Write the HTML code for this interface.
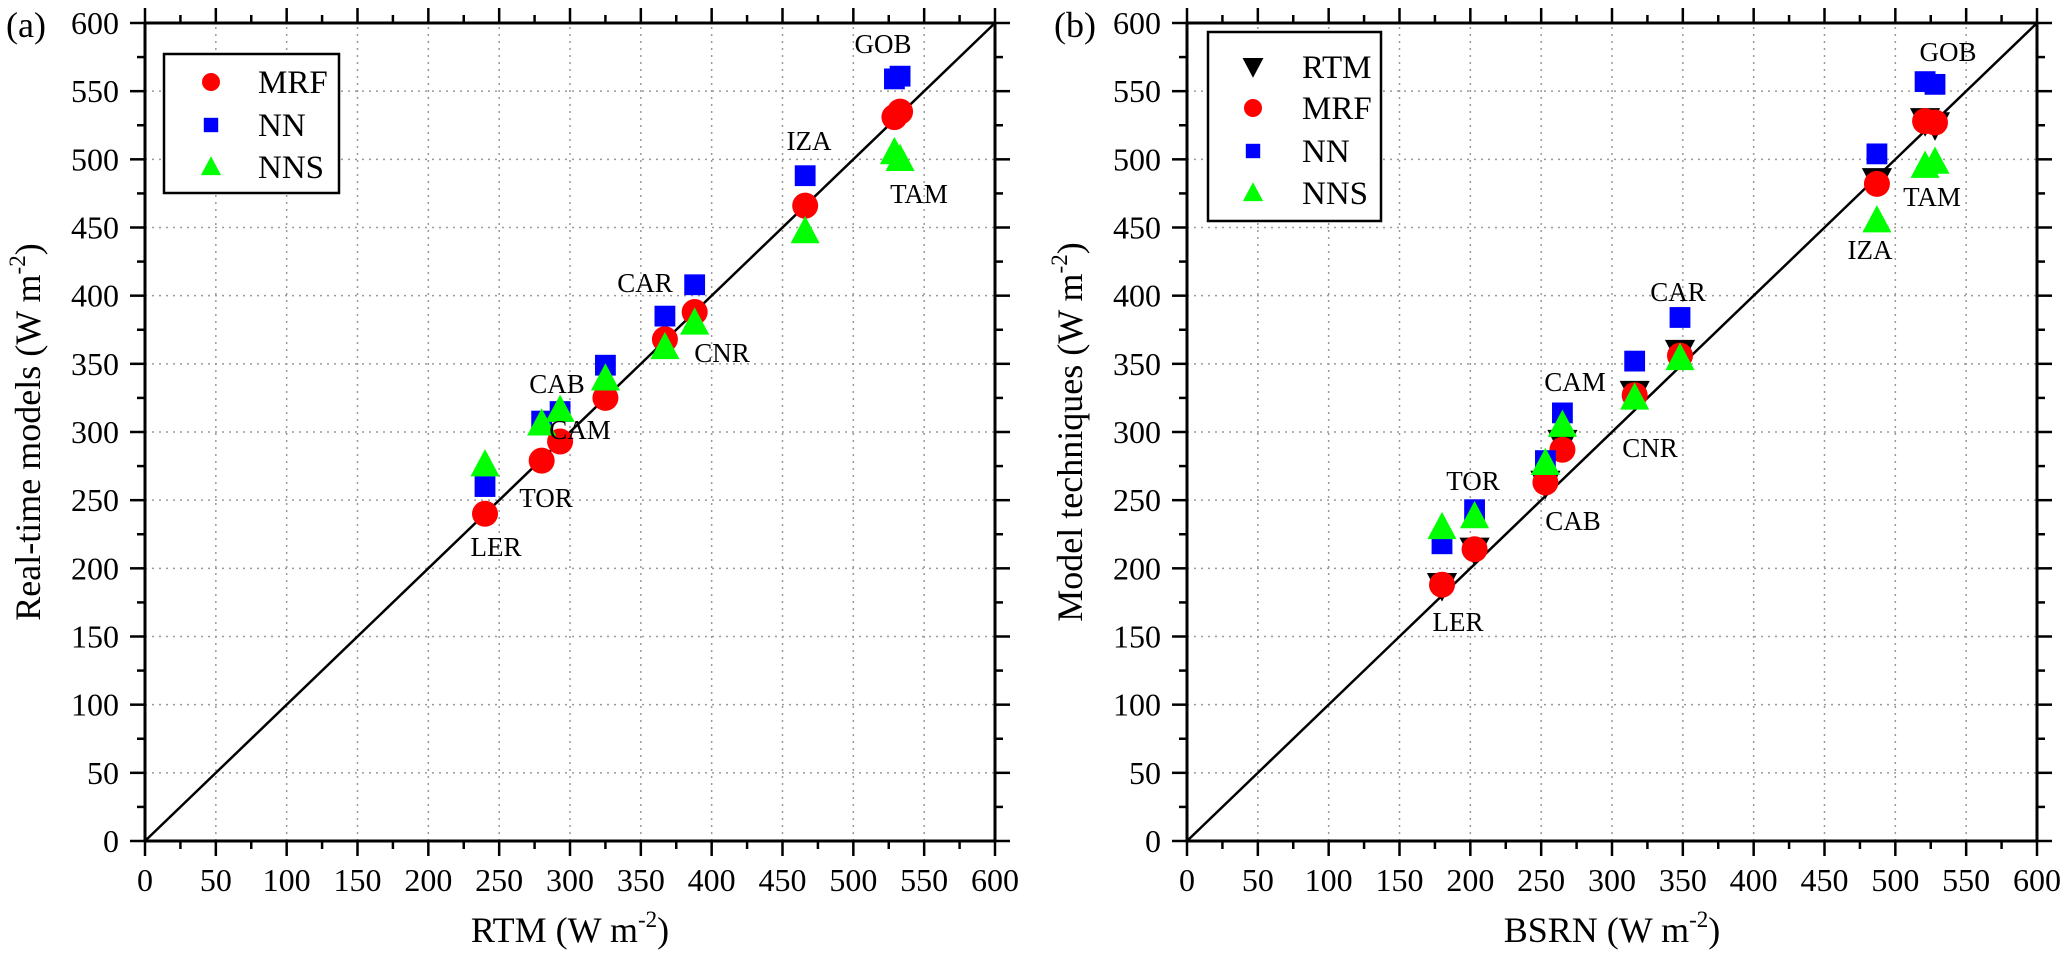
<!DOCTYPE html>
<html><head><meta charset="utf-8"><style>
html,body{margin:0;padding:0;background:#fff;}
svg{display:block;}
svg text{font-family:"Liberation Serif","Times New Roman",serif;}
</style></head><body>
<svg id="chart" width="2067" height="963" viewBox="0 0 2067 963" xmlns="http://www.w3.org/2000/svg" font-family="Liberation Serif, serif"></svg>
<script>
// Panel (a) data
const aSites = ["LER","TOR","CAM","CAB","CNR","CAR","IZA","TAM","GOB"];
const aRTM = [240,280,293,325,367,388,466,529,533];
const aMRF = [240,279,293,325,368,388,466,531,535];
const aNN  = [260,308,315,349,385,408,488,559,561];
const aNNS = [276,306,316,339,362,380,447,505,500];
// Panel (b) data
const bSites = ["LER","TOR","CAB","CAM","CNR","CAR","IZA","TAM","GOB"];
const bBSRN = [180,203,253,265,316,348,487,521,528];
const bRTM = [187,213,262,292,328,358,484,528,525];
const bMRF = [188,214,263,287,327,356,482,528,527];
const bNN  = [218,243,279,314,352,384,504,557,555];
const bNNS = [230,238,277,305,325,354,455,495,498];
const ticks = [0,50,100,150,200,250,300,350,400,450,500,550,600];

const NS="http://www.w3.org/2000/svg";
const FF="Liberation Serif, Times New Roman, serif";
const svg=document.getElementById('chart');
function mk(tag,attrs,parent,text){const e=document.createElementNS(NS,tag);for(const k in attrs)e.setAttribute(k,attrs[k]);if(tag==='text')e.setAttribute('font-family',FF);if(text!==undefined)e.textContent=text;(parent||svg).appendChild(e);return e;}

function panel(x0,name){
  const g=mk('g',{});
  
  
  const X=v=>x0+v*850/600, Y=v=>841-v*818/600;
  ticks.forEach(t=>{if(t>0&&t<600){
    const gv=mk('line',{x1:X(t),x2:X(t),y1:Y(0),y2:Y(600),stroke:'#999','stroke-width':1.5,'stroke-dasharray':'2,5'},g);
    
    
    const gh=mk('line',{x1:X(0),x2:X(600),y1:Y(t),y2:Y(t),stroke:'#999','stroke-width':1.5,'stroke-dasharray':'2,5'},g);
    
    
  }});
  for(let t=0;t<=600;t+=25){
    const maj=t%50===0, L=maj?15:8;
    mk('line',{x1:X(t),x2:X(t),y1:Y(0),y2:Y(0)+L,stroke:'#000','stroke-width':2.5},g);
    mk('line',{x1:X(t),x2:X(t),y1:Y(600),y2:Y(600)-L,stroke:'#000','stroke-width':2.5},g);
    mk('line',{x1:X(0),x2:X(0)-L,y1:Y(t),y2:Y(t),stroke:'#000','stroke-width':2.5},g);
    mk('line',{x1:X(600),x2:X(600)+L,y1:Y(t),y2:Y(t),stroke:'#000','stroke-width':2.5},g);
  }
  ticks.forEach(t=>{
    const tx=mk('text',{x:X(t),y:Y(0)+50,'font-size':32,'text-anchor':'middle'},g,String(t));
    
    
    const ty=mk('text',{x:X(0)-26,y:Y(t)+11,'font-size':32,'text-anchor':'end'},g,String(t));
    
    
  });
  const fr=mk('rect',{x:X(0),y:Y(600),width:X(600)-X(0),height:Y(0)-Y(600),fill:'none',stroke:'#000','stroke-width':3},g);
  
  
  const dl=mk('line',{x1:X(0),y1:Y(0),x2:X(600),y2:Y(600),stroke:'#000','stroke-width':2.5},g);
  
  
  return {g,X,Y};
}
function marker(g,type,cx,cy,s){
  let e;
  if(type==='circle') e=mk('circle',{cx:cx,cy:cy,r:s/2,fill:'#f00'},g);
  else if(type==='square') e=mk('rect',{x:cx-s*0.4,y:cy-s*0.4,width:s*0.8,height:s*0.8,fill:'#00f'},g);
  else if(type==='tri') e=mk('polygon',{points:`${cx-s*0.56},${cy+s*0.45} ${cx+s*0.56},${cy+s*0.45} ${cx},${cy-s*0.6}`,fill:'#0f0'},g);
  else e=mk('polygon',{points:`${cx-s*0.58},${cy-s*0.5} ${cx+s*0.58},${cy-s*0.5} ${cx},${cy+s*0.6}`,fill:'#000'},g);
  return e;
}
function series(p,type,xs,ys,name){
  xs.forEach((x,i)=>{
    const e=marker(p.g,type,p.X(x),p.Y(ys[i]),26);
    
    
  });
}
function label(p,txt,x,y){
  const t=mk('text',{x:x,y:y+9,'font-size':27,'text-anchor':'middle'},p.g,txt);
  
  
}
function legend(p,x,y,w,h,mx,tx,rows){
  const lg=mk('g',{},p.g);
  
  
  mk('rect',{x:x,y:y,width:w,height:h,fill:'#fff',stroke:'#000','stroke-width':2.5},lg);
  rows.forEach(r=>{
    const e=marker(lg,r[1],mx,r[2],18);
    
    
    const t=mk('text',{x:tx,y:r[2]+11,'font-size':33},lg,r[0]);
    
    
  });
}
function titles(p,xt,yt,ytx,pl,plx){
  const t1=mk('text',{x:p.X(300),y:942,'font-size':36,'text-anchor':'middle'},p.g);
  
  
  t1.innerHTML=xt+'(W m<tspan dy="-15" font-size="23">-2</tspan><tspan dy="15">)</tspan>';
  const t2=mk('text',{x:0,y:0,'font-size':36,'text-anchor':'middle',transform:`translate(${ytx},${p.Y(300)}) rotate(-90)`},p.g);
  
  
  t2.innerHTML=yt+' (W m<tspan dy="-15" font-size="23">-2</tspan><tspan dy="15">)</tspan>';
  const t3=mk('text',{x:plx,y:37,'font-size':36},p.g,pl);
  
  
}

const A=panel(145,'panel-a');
series(A,'square',aRTM,aNN,'nn');
series(A,'circle',aRTM,aMRF,'mrf');
series(A,'tri',aRTM,aNNS,'nns');
[["GOB",883,44],["IZA",809,141],["TAM",919,194],["CAR",645,283],["CNR",722,353],["CAB",557,384],["CAM",580,430],["TOR",546,498],["LER",496,547]].forEach(l=>label(A,l[0],l[1],l[2]));
legend(A,164,54,175,139,211,258,[["MRF","circle",82],["NN","square",125],["NNS","tri",167]]);
titles(A,'RTM  ','Real-time models ',40,'(a)',6);

const B=panel(1187,'panel-b');
series(B,'down',bBSRN,bRTM,'rtm');
series(B,'circle',bBSRN,bMRF,'mrf');
series(B,'square',bBSRN,bNN,'nn');
series(B,'tri',bBSRN,bNNS,'nns');
[["GOB",1948,52],["TAM",1932,197],["IZA",1870,250],["CAR",1678,292],["CNR",1650,448],["CAM",1575,382],["CAB",1573,521],["TOR",1473,481],["LER",1458,622]].forEach(l=>label(B,l[0],l[1],l[2]));
legend(B,1208,32,173,189,1253,1302,[["RTM","down",67],["MRF","circle",108],["NN","square",151],["NNS","tri",193]]);
titles(B,'BSRN ','Model techniques ',1082,'(b)',1054);
</script>
</body></html>
